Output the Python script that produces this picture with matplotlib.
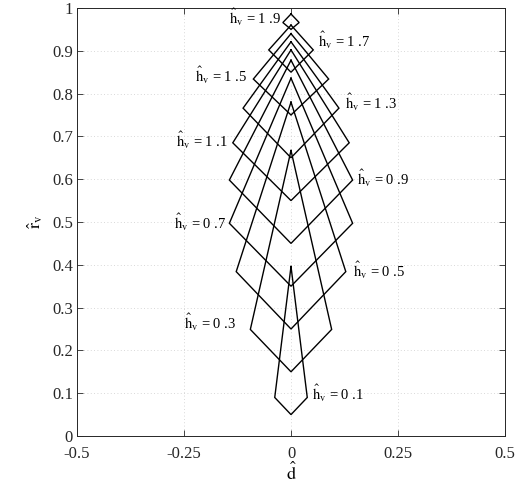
import matplotlib
matplotlib.use("Agg")
import matplotlib.pyplot as plt

plt.rcParams['font.family'] = ['Liberation Serif', 'DejaVu Serif']
plt.rcParams['mathtext.fontset'] = 'stix'

h_values = [0.1, 0.3, 0.5, 0.7, 0.9, 1.1, 1.3, 1.5, 1.7, 1.9]
d_side = [0.038, 0.095, 0.128, 0.144, 0.144, 0.136, 0.112, 0.088, 0.052, 0.019]
r_side = [0.090, 0.249, 0.384, 0.497, 0.598, 0.685, 0.766, 0.834, 0.902, 0.966]
r_bottom = [0.05, 0.15, 0.25, 0.35, 0.45, 0.55, 0.65, 0.75, 0.85, 0.95]
r_top = [0.396, 0.667, 0.78, 0.836, 0.878, 0.902, 0.921, 0.94, 0.96, 0.986]

label_x = [0.048, -0.127, 0.144, -0.151, 0.155, -0.148, 0.125, -0.102, 0.062, -0.022]
label_y = [0.100, 0.266, 0.388, 0.500, 0.603, 0.692, 0.780, 0.843, 0.925, 0.979]
label_ha = ['left', 'right', 'left', 'right', 'left', 'right', 'left', 'right', 'left', 'right']

x_ticks = [-0.5, -0.25, 0, 0.25, 0.5]
x_ticklabels = ['-0.5', '-0.25', '0', '0.25', '0.5']
y_ticks = [0, 0.1, 0.2, 0.3, 0.4, 0.5, 0.6, 0.7, 0.8, 0.9, 1]
y_ticklabels = ['0', '0.1', '0.2', '0.3', '0.4', '0.5', '0.6', '0.7', '0.8', '0.9', '1']

fig = plt.figure(figsize=(5.15, 4.9), dpi=100)
ax = fig.add_axes([0.1495, 0.1102, 0.9806 - 0.1495, 0.9837 - 0.1102])

for i, h in enumerate(h_values):
    xs = [0, -d_side[i], 0, d_side[i], 0]
    ys = [r_top[i], r_side[i], r_bottom[i], r_side[i], r_top[i]]
    ax.plot(xs, ys, color='black', lw=1.0, solid_joinstyle='miter')
    lab = r'$\mathrm{\hat{h}_v}$' + ' = ' + ' .'.join(f'{h:.1f}'.split('.'))
    ax.text(label_x[i], label_y[i], lab, ha=label_ha[i], va='center', fontsize=10.5)

ax.set_xlim(-0.5, 0.5)
ax.set_ylim(0, 1)
ax.set_xticks(x_ticks)
ax.set_xticklabels(x_ticklabels)
ax.set_yticks(y_ticks)
ax.set_yticklabels(y_ticklabels)
ax.tick_params(direction='in', top=True, right=True, labelsize=12, length=4, width=0.6, colors='#262626')
ax.tick_params(axis='x', pad=7)
ax.tick_params(axis='y', pad=3)
for sp in ax.spines.values():
    sp.set_linewidth(0.7)
    sp.set_color('#262626')
ax.grid(True, linestyle=(0, (1, 3)), color='#cccccc', lw=0.6)
ax.set_xlabel(r'$\mathrm{\hat{d}}$', fontsize=13, labelpad=0)
ax.set_ylabel(r'$\mathrm{\hat{r}_v}$', fontsize=13, labelpad=5)

fig.savefig('out.png', dpi=100)
